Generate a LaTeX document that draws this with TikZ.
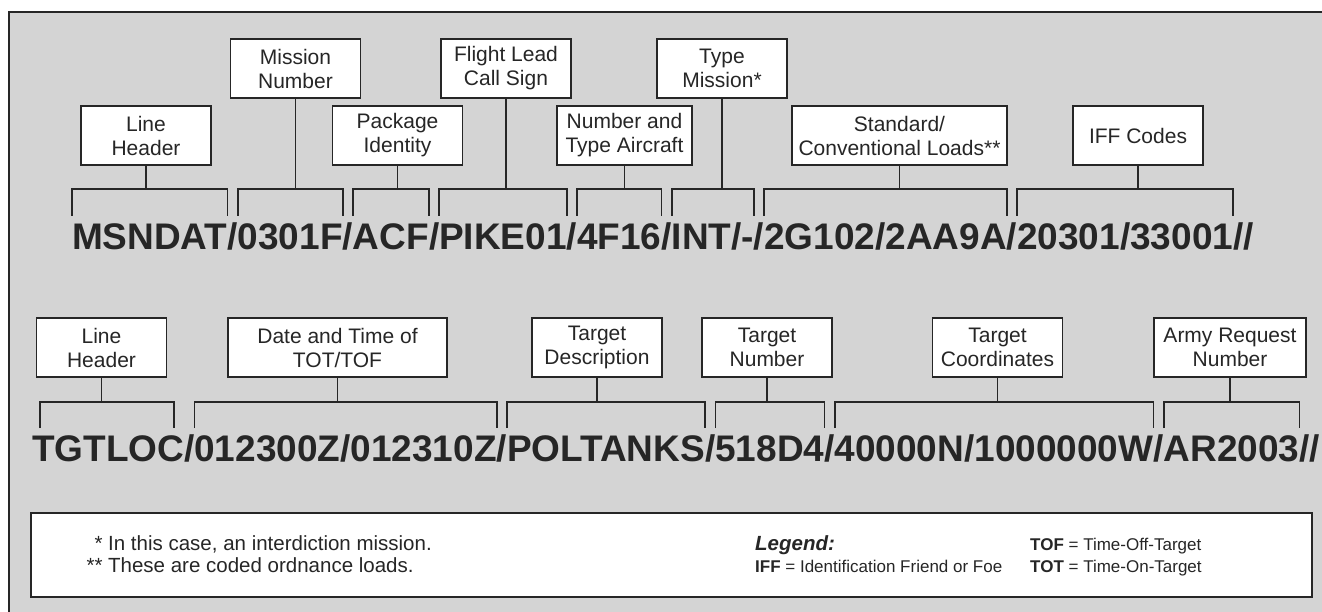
\documentclass[tikz,border=0pt]{standalone}
\usepackage{fontspec}
\setmainfont{Liberation Sans}
\usetikzlibrary{positioning}

\definecolor{panel}{RGB}{212,212,212}
\definecolor{ink}{RGB}{38,38,38}

\begin{document}
\begin{tikzpicture}[x=1pt,y=-1pt,
      box/.style={draw=ink,fill=white,line width=1.8pt,minimum width=130pt,
                  minimum height=59pt,inner sep=0pt,align=center,text=ink,
                  font=\fontsize{21}{24}\selectfont},
      field/.style={inner sep=0pt,outer sep=0pt,anchor=base west,text=ink,
                    font=\fontsize{37}{40}\selectfont\bfseries},
      note/.style={inner sep=0pt,anchor=base west,text=ink,
                   font=\fontsize{20.5}{23}\selectfont},
      key/.style={inner sep=0pt,anchor=base west,text=ink,
                  font=\fontsize{17}{20}\selectfont},
      brk/.style={draw=ink,line width=1.7pt}]
    \useasboundingbox (0,0) rectangle (1322,612);
    \clip (0,0) rectangle (1322,612);
    \draw[draw=ink,line width=1.8pt,fill=panel] (9,12) rectangle (1340,640);

    % upper message line
    \coordinate (brkT) at (0,189);
    \coordinate (legT) at (0,216);
    \node[box] (mnum)  at (295.5,68.5) {Mission\\Number};
    \node[box] (flead) at (506,68.5)   {Flight Lead\\Call Sign};
    \node[box] (tmis)  at (722,68.5)   {Type\\Mission*};
    \node[box] (lhdA)  at (146,135.5)  {Line\\Header};
    \node[box] (pkg)   at (397.5,135.5) {Package\\Identity};
    \node[box,minimum width=135pt] (nta) at (624.5,135.5) {Number and\\Type Aircraft};
    \node[box,minimum width=215pt] (std) at (899.5,135.5) {Standard/\\Conventional Loads**};
    \node[box] (iff)   at (1138,135.5) {IFF Codes};

    \node[field] (m1) at (72,250) {MSNDAT};
    \node[field] (ms1) at (m1.base east) {/};
    \node[field] (m2) at (ms1.base east) {0301F};
    \node[field] (ms2) at (m2.base east) {/};
    \node[field] (m3) at (ms2.base east) {ACF};
    \node[field] (ms3) at (m3.base east) {/};
    \node[field] (m4) at (ms3.base east) {PIKE01};
    \node[field] (ms4) at (m4.base east) {/};
    \node[field] (m5) at (ms4.base east) {4F16};
    \node[field] (ms5) at (m5.base east) {/};
    \node[field] (m6) at (ms5.base east) {INT/-};
    \node[field] (ms6) at (m6.base east) {/};
    \node[field] (m7) at (ms6.base east) {2G102/2AA9A};
    \node[field] (ms7) at (m7.base east) {/};
    \node[field] (m8) at (ms7.base east) {20301/33001};
    \node[field] (ms8) at (m8.base east) {//};

    \draw[brk] (m1.west |- legT) |- (m1.east |- brkT) -- (m1.east |- legT);
    \draw[brk] (m2.west |- legT) |- (m2.east |- brkT) -- (m2.east |- legT);
    \draw[brk] (m3.west |- legT) |- (m3.east |- brkT) -- (m3.east |- legT);
    \draw[brk] (m4.west |- legT) |- (m4.east |- brkT) -- (m4.east |- legT);
    \draw[brk] (m5.west |- legT) |- (m5.east |- brkT) -- (m5.east |- legT);
    \draw[brk] (m6.west |- legT) |- (m6.east |- brkT) -- (m6.east |- legT);
    \draw[brk] (m7.west |- legT) |- (m7.east |- brkT) -- (m7.east |- legT);
    \draw[brk] (m8.west |- legT) |- (m8.east |- brkT) -- (m8.east |- legT);

    \draw[brk] (lhdA.south)  -- (lhdA.south |- brkT);
    \draw[brk] (mnum.south)  -- (mnum.south |- brkT);
    \draw[brk] (pkg.south)   -- (pkg.south |- brkT);
    \draw[brk] (flead.south) -- (flead.south |- brkT);
    \draw[brk] (nta.south)   -- (nta.south |- brkT);
    \draw[brk] (tmis.south)  -- (tmis.south |- brkT);
    \draw[brk] (std.south)   -- (std.south |- brkT);
    \draw[brk] (iff.south)   -- (iff.south |- brkT);

    % lower message line
    \coordinate (brkB) at (0,402);
    \coordinate (legB) at (0,428);
    \node[box] (lhdB)  at (101.5,347.5) {Line\\Header};
    \node[box,minimum width=219pt] (dtime) at (337.5,347.5) {Date and Time of\\TOT/TOF};
    \node[box] (tdesc) at (597,347.5)  {Target\\Description};
    \node[box] (tnum)  at (767,347.5)  {Target\\Number};
    \node[box] (tcrd)  at (997.5,347.5) {Target\\Coordinates};
    \node[box,minimum width=152pt] (arn) at (1230,347.5) {Army Request\\Number};

    \node[field] (t1) at (32,461) {TGTLOC};
    \node[field] (ts1) at (t1.base east) {/};
    \node[field] (t2) at (ts1.base east) {012300Z/012310Z};
    \node[field] (ts2) at (t2.base east) {/};
    \node[field] (t3) at (ts2.base east) {POLTANKS};
    \node[field] (ts3) at (t3.base east) {/};
    \node[field] (t4) at (ts3.base east) {518D4};
    \node[field] (ts4) at (t4.base east) {/};
    \node[field] (t5) at (ts4.base east) {40000N/1000000W};
    \node[field] (ts5) at (t5.base east) {/};
    \node[field] (t6) at (ts5.base east) {AR2003};
    \node[field] (ts6) at (t6.base east) {//};

    \draw[brk] ([xshift=8pt]t1.west |- legB) |- ([xshift=-10pt]t1.east |- brkB)
               -- ([xshift=-10pt]t1.east |- legB);
    \draw[brk] (t2.west |- legB) |- (t2.east |- brkB) -- (t2.east |- legB);
    \draw[brk] (t3.west |- legB) |- (t3.east |- brkB) -- (t3.east |- legB);
    \draw[brk] (t4.west |- legB) |- (t4.east |- brkB) -- (t4.east |- legB);
    \draw[brk] (t5.west |- legB) |- (t5.east |- brkB) -- (t5.east |- legB);
    \draw[brk] (t6.west |- legB) |- (t6.east |- brkB) -- (t6.east |- legB);

    \draw[brk] (lhdB.south)  -- (lhdB.south |- brkB);
    \draw[brk] (dtime.south) -- (dtime.south |- brkB);
    \draw[brk] (tdesc.south) -- (tdesc.south |- brkB);
    \draw[brk] (tnum.south)  -- (tnum.south |- brkB);
    \draw[brk] (tcrd.south)  -- (tcrd.south |- brkB);
    \draw[brk] (arn.south)   -- (arn.south |- brkB);

    % footnotes and legend
    \node[draw=ink,fill=white,line width=1.5pt,minimum width=1281pt,
          minimum height=84pt,inner sep=0pt] (legbox) at (671.5,555) {};
    \node[note] (n1) at (108,550) {\llap{* }In this case, an interdiction mission.};
    \node[note] (n2) at (108,572) {\llap{** }These are coded ordnance loads.};
    \node[key,font=\fontsize{20.5}{23}\selectfont\bfseries\itshape] (lgd) at (755,550) {Legend:};
    \node[key] (kiff) at (755,572)  {\textbf{IFF} = Identification Friend or Foe};
    \node[key] (ktof) at (1030,550) {\textbf{TOF} = Time-Off-Target};
    \node[key] (ktot) at (1030,572) {\textbf{TOT} = Time-On-Target};
  \end{tikzpicture}
\end{document}
